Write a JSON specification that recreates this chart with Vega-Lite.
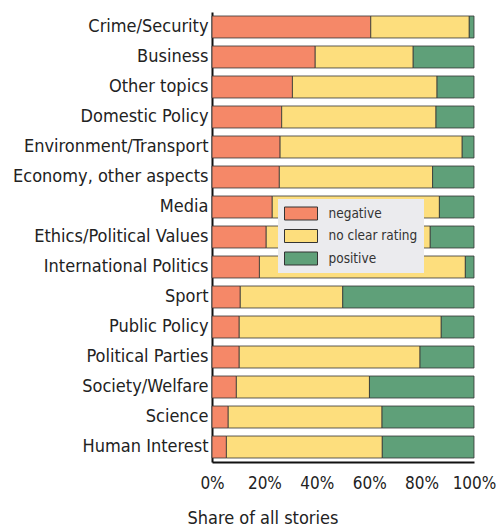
{
  "$schema": "https://vega.github.io/schema/vega-lite/v6.json",
  "width": 262,
  "height": 450,
  "autosize": {"type": "none"},
  "padding": {"left": 212, "top": 12, "right": 25, "bottom": 67},
  "background": "white",
  "config": {
    "font": "DejaVu Sans Condensed",
    "view": {"stroke": null}
  },
  "data": {
    "values": [
      {"topic": "Crime/Security", "rating": "negative", "o": 1, "share": 60.6},
      {"topic": "Crime/Security", "rating": "no clear rating", "o": 2, "share": 37.6},
      {"topic": "Crime/Security", "rating": "positive", "o": 3, "share": 1.8},
      {"topic": "Business", "rating": "negative", "o": 1, "share": 39.4},
      {"topic": "Business", "rating": "no clear rating", "o": 2, "share": 37.4},
      {"topic": "Business", "rating": "positive", "o": 3, "share": 23.2},
      {"topic": "Other topics", "rating": "negative", "o": 1, "share": 30.7},
      {"topic": "Other topics", "rating": "no clear rating", "o": 2, "share": 55.2},
      {"topic": "Other topics", "rating": "positive", "o": 3, "share": 14.1},
      {"topic": "Domestic Policy", "rating": "negative", "o": 1, "share": 26.6},
      {"topic": "Domestic Policy", "rating": "no clear rating", "o": 2, "share": 58.9},
      {"topic": "Domestic Policy", "rating": "positive", "o": 3, "share": 14.5},
      {"topic": "Environment/Transport", "rating": "negative", "o": 1, "share": 26.0},
      {"topic": "Environment/Transport", "rating": "no clear rating", "o": 2, "share": 69.5},
      {"topic": "Environment/Transport", "rating": "positive", "o": 3, "share": 4.5},
      {"topic": "Economy, other aspects", "rating": "negative", "o": 1, "share": 25.7},
      {"topic": "Economy, other aspects", "rating": "no clear rating", "o": 2, "share": 58.5},
      {"topic": "Economy, other aspects", "rating": "positive", "o": 3, "share": 15.8},
      {"topic": "Media", "rating": "negative", "o": 1, "share": 23.0},
      {"topic": "Media", "rating": "no clear rating", "o": 2, "share": 63.8},
      {"topic": "Media", "rating": "positive", "o": 3, "share": 13.2},
      {"topic": "Ethics/Political Values", "rating": "negative", "o": 1, "share": 20.7},
      {"topic": "Ethics/Political Values", "rating": "no clear rating", "o": 2, "share": 62.6},
      {"topic": "Ethics/Political Values", "rating": "positive", "o": 3, "share": 16.7},
      {"topic": "International Politics", "rating": "negative", "o": 1, "share": 18.1},
      {"topic": "International Politics", "rating": "no clear rating", "o": 2, "share": 78.6},
      {"topic": "International Politics", "rating": "positive", "o": 3, "share": 3.3},
      {"topic": "Sport", "rating": "negative", "o": 1, "share": 10.8},
      {"topic": "Sport", "rating": "no clear rating", "o": 2, "share": 39.1},
      {"topic": "Sport", "rating": "positive", "o": 3, "share": 50.1},
      {"topic": "Public Policy", "rating": "negative", "o": 1, "share": 10.4},
      {"topic": "Public Policy", "rating": "no clear rating", "o": 2, "share": 77.1},
      {"topic": "Public Policy", "rating": "positive", "o": 3, "share": 12.5},
      {"topic": "Political Parties", "rating": "negative", "o": 1, "share": 10.4},
      {"topic": "Political Parties", "rating": "no clear rating", "o": 2, "share": 69.0},
      {"topic": "Political Parties", "rating": "positive", "o": 3, "share": 20.6},
      {"topic": "Society/Welfare", "rating": "negative", "o": 1, "share": 9.3},
      {"topic": "Society/Welfare", "rating": "no clear rating", "o": 2, "share": 50.8},
      {"topic": "Society/Welfare", "rating": "positive", "o": 3, "share": 39.9},
      {"topic": "Science", "rating": "negative", "o": 1, "share": 6.2},
      {"topic": "Science", "rating": "no clear rating", "o": 2, "share": 58.7},
      {"topic": "Science", "rating": "positive", "o": 3, "share": 35.1},
      {"topic": "Human Interest", "rating": "negative", "o": 1, "share": 5.5},
      {"topic": "Human Interest", "rating": "no clear rating", "o": 2, "share": 59.5},
      {"topic": "Human Interest", "rating": "positive", "o": 3, "share": 35.0}
    ]
  },
  "mark": {"type": "bar", "stroke": "#333333", "strokeWidth": 0.8},
  "encoding": {
    "y": {
      "field": "topic",
      "type": "nominal",
      "sort": null,
      "scale": {"paddingInner": 0.267, "paddingOuter": 0.133},
      "axis": {
        "title": null,
        "ticks": false,
        "labelFontSize": 18,
        "labelColor": "#222222",
        "labelPadding": 4,
        "labelLimit": 300,
        "domainColor": "#111111",
        "domainWidth": 2
      }
    },
    "x": {
      "field": "share",
      "type": "quantitative",
      "stack": "zero",
      "scale": {"domain": [0, 100], "nice": false},
      "axis": {
        "values": [0, 20, 40, 60, 80, 100],
        "labelExpr": "datum.value + '%'",
        "grid": false,
        "ticks": false,
        "labelFontSize": 17,
        "labelColor": "#222222",
        "labelBaseline": "alphabetic",
        "labelPadding": 26,
        "labelFlush": false,
        "domainColor": "#111111",
        "domainWidth": 2,
        "title": "Share of all stories",
        "titleFontSize": 18,
        "titleFontWeight": "normal",
        "titleColor": "#222222",
        "titleAnchor": "start",
        "titleAlign": "left",
        "titleBaseline": "alphabetic",
        "titleX": -25,
        "titleY": 61
      }
    },
    "color": {
      "field": "rating",
      "type": "nominal",
      "scale": {
        "domain": ["negative", "no clear rating", "positive"],
        "range": ["#F58868", "#FDDE7D", "#5FA079"]
      },
      "legend": {
        "title": null,
        "orient": "none",
        "legendX": 66,
        "legendY": 187,
        "fillColor": "#EBEBEE",
        "padding": 6,
        "symbolType": "M-1,-0.8125H3.125V0.8125H-1Z",
        "symbolSize": 256,
        "symbolStrokeColor": "#333333",
        "symbolStrokeWidth": 1,
        "symbolOpacity": 1,
        "labelFontSize": 13.5,
        "labelColor": "#333333",
        "labelOffset": 27.5,
        "rowPadding": 5.5
      }
    },
    "order": {"field": "o", "type": "quantitative"}
  }
}
